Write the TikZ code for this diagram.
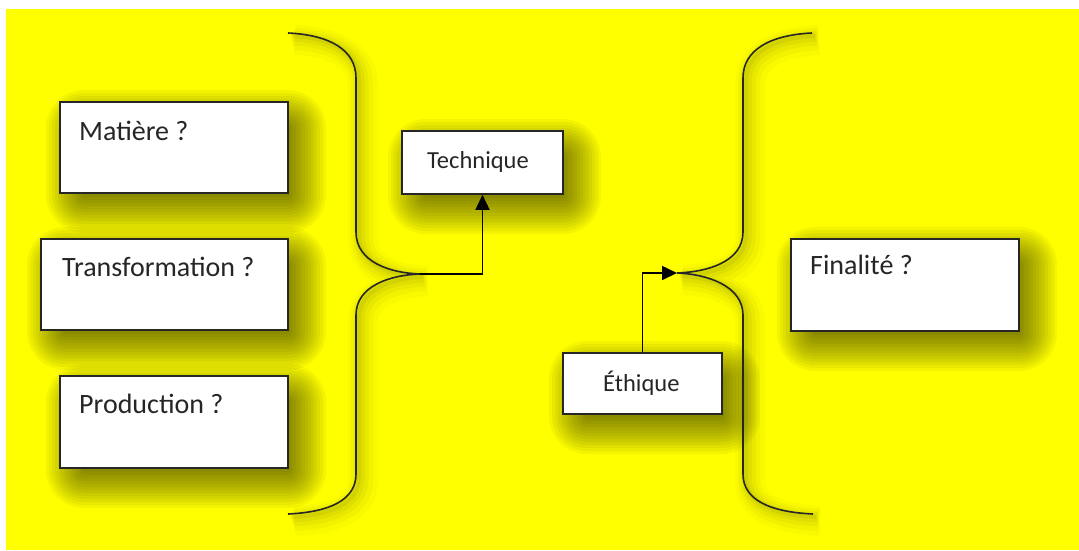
\documentclass[tikz,border=0pt]{standalone}
\usepackage{fontspec}
\setmainfont{Carlito}
\usetikzlibrary{arrows.meta}
\definecolor{bgyellow}{RGB}{255,255,0}
\newcommand{\softshadow}[4]{%
  \foreach \r in {-10,-7,...,26}{%
    \fill[black,opacity=0.045,rounded corners=\r pt+12pt]
      ({#1+12-\r},{#2+14-\r}) rectangle ({#3+12+\r},{#4+14+\r});}}
\begin{document}
\begin{tikzpicture}[x=1pt,y=-1pt,
  qbox/.style={draw=black!85,line width=1.6pt,fill=white},
  qtext/.style={anchor=base west,inner sep=0pt,font=\fontsize{28}{30}\selectfont,text=black!85},
  stext/.style={anchor=base west,inner sep=0pt,font=\fontsize{24.5}{26}\selectfont,text=black!85},
  halo/.style={preaction={draw=black,opacity=0.025,line width=30pt,transform canvas={shift={(7pt,-7pt)}}},
               preaction={draw=black,opacity=0.03,line width=22pt,transform canvas={shift={(6pt,-6pt)}}},
               preaction={draw=black,opacity=0.035,line width=15pt,transform canvas={shift={(5pt,-5pt)}}},
               preaction={draw=black,opacity=0.04,line width=9pt,transform canvas={shift={(4pt,-4pt)}}},
               preaction={draw=black,opacity=0.05,line width=4pt,transform canvas={shift={(3pt,-3pt)}}}},
  brace/.style={draw=black!85,line width=1.6pt,halo},
  conn/.style={draw=black,line width=1.6pt,-{Triangle[length=15pt,width=14pt]}}]
\useasboundingbox (0,0) rectangle (1079,550);
\fill[white] (0,0) rectangle (1079,550);
\fill[bgyellow] (6,9) rectangle (1079,550);
% shadows
\softshadow{60}{102}{288}{193}
\softshadow{41}{239}{288}{330}
\softshadow{60}{376}{288}{468}
\softshadow{791}{239}{1019}{331}
\softshadow{402}{131}{563}{194}
\softshadow{563}{353}{722}{414}
% braces
\coordinate (ltip) at (420,274);
\coordinate (rtip) at (677,273);
\path[brace] (288,33) .. controls (330,35) and (356,50) .. (356,78) -- (356,232)
  .. controls (356,262) and (390,273) .. (ltip)
  .. controls (390,275) and (356,286) .. (356,315) -- (356,474)
  .. controls (356,500) and (330,512) .. (288,514);
\path[brace] (812,33) .. controls (770,35) and (743,50) .. (743,78) -- (743,232)
  .. controls (743,262) and (707,272) .. (rtip)
  .. controls (707,274) and (743,286) .. (743,315) -- (743,474)
  .. controls (743,500) and (770,512) .. (813,514);
% boxes
\path[qbox] (60,102) rectangle (288,193);
\path[qbox] (41,239) rectangle (288,330);
\path[qbox] (60,376) rectangle (288,468);
\path[qbox] (791,239) rectangle (1019,331);
\node[qbox,minimum width=161pt,minimum height=63pt,inner sep=0pt] (tech) at (482.5,162.5) {};
\node[qbox,minimum width=159pt,minimum height=61pt,inner sep=0pt] (eth) at (642.5,383.5) {};
% texts
\node[qtext] (t1) at (79,140) {Matière ?};
\node[qtext] (t2) at (62,276) {Transformation ?};
\node[qtext] (t3) at (79,413) {Production ?};
\node[qtext] (t4) at (810,274) {Finalité ?};
\node[stext] (t5) at (427,168) {Technique};
\node[stext] (t6) at (603,391) {Éthique};
% connectors
\draw[conn] (ltip) -| (tech.south);
\draw[conn] (eth.north) |- (rtip);
\end{tikzpicture}
\end{document}
